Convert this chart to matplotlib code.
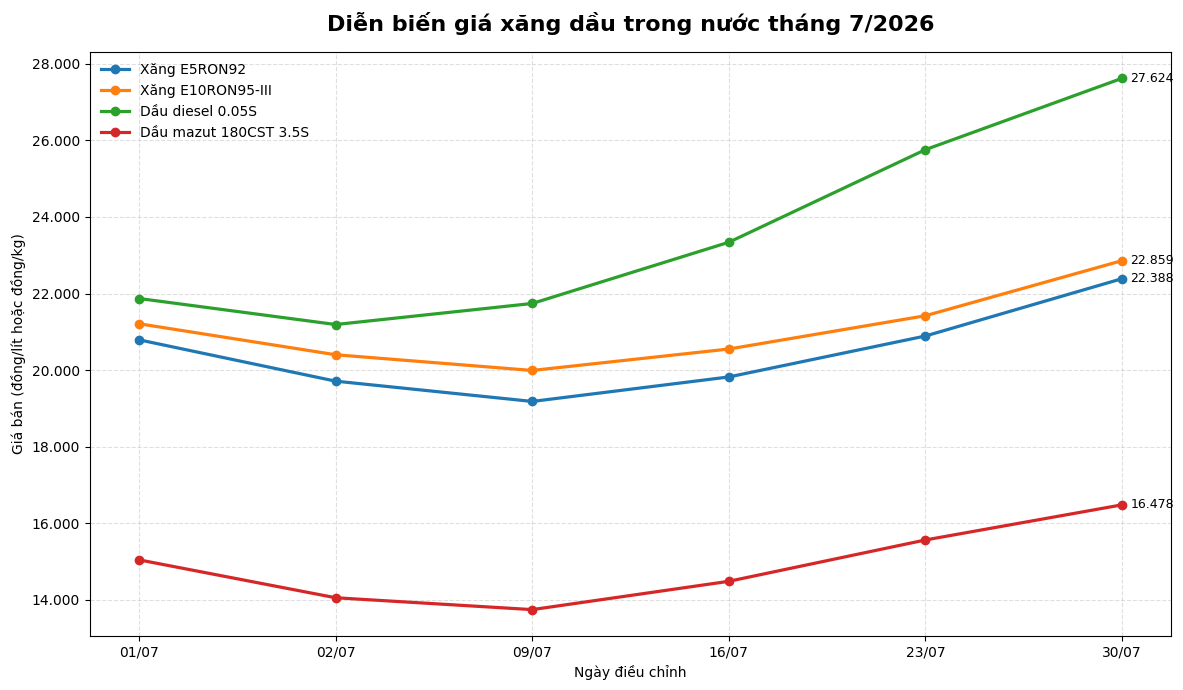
import matplotlib
matplotlib.use("Agg")
import matplotlib.pyplot as plt
from matplotlib.ticker import FuncFormatter

dates = ["01/07", "02/07", "09/07", "16/07", "23/07", "30/07"]
e5_ron92 = [20790, 19710, 19180, 19820, 20890, 22388]
e10_ron95 = [21210, 20400, 19990, 20550, 21420, 22859]
diesel = [21870, 21190, 21740, 23340, 25760, 27624]
mazut = [15040, 14050, 13740, 14480, 15560, 16478]

series = [
    ("Xăng E5RON92", e5_ron92, "#1f77b4"),
    ("Xăng E10RON95-III", e10_ron95, "#ff7f0e"),
    ("Dầu diesel 0.05S", diesel, "#2ca02c"),
    ("Dầu mazut 180CST 3.5S", mazut, "#d62728"),
]


def vn_thousands(v, _pos=None):
    return f"{v:,.0f}".replace(",", ".")


fig, ax = plt.subplots(figsize=(11.83, 6.9), dpi=100)
x = list(range(len(dates)))
for name, vals, color in series:
    ax.plot(x, vals, marker="o", linewidth=2.3, markersize=6, color=color, label=name)
    ax.annotate(vn_thousands(vals[-1]), (x[-1], vals[-1]), xytext=(6, 0),
                textcoords="offset points", va="center", fontsize=9)

ax.set_xticks(x)
ax.set_xticklabels(dates)
ax.yaxis.set_major_formatter(FuncFormatter(vn_thousands))
ax.set_xlabel("Ngày điều chỉnh")
ax.set_ylabel("Giá bán (đồng/lít hoặc đồng/kg)")
ax.set_title("Diễn biến giá xăng dầu trong nước tháng 7/2026", fontsize=16,
             fontweight="bold", pad=15)
ax.grid(True, linestyle="--", alpha=0.4)
ax.legend(loc="upper left", frameon=False, borderaxespad=0.4)
fig.subplots_adjust(left=0.076, right=0.99, top=0.925, bottom=0.078)
fig.savefig("out.png", dpi=100)
